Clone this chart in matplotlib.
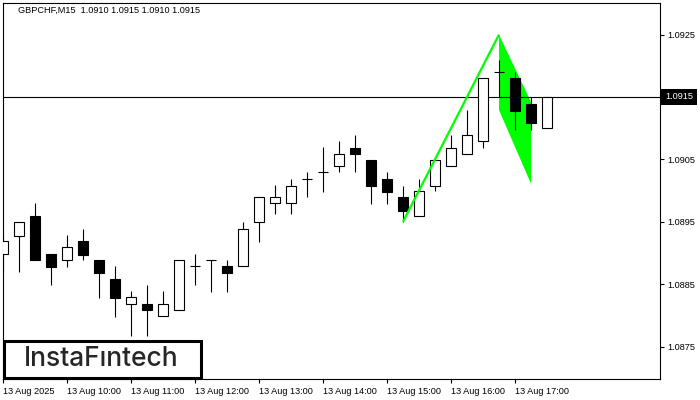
import numpy as np
import matplotlib.pyplot as plt
from matplotlib.patches import Rectangle, Polygon
import matplotlib.transforms as mtransforms

# GBPCHF M15 candles, 13 Aug 2025 from 09:00
opens = [1.08898, 1.08928, 1.08959, 1.08898, 1.08888, 1.08919, 1.08889, 1.08858, 1.08818, 1.08818,
         1.08799, 1.08808, 1.08879, 1.08889, 1.08879, 1.08879, 1.08949, 1.08980, 1.08980, 1.09018,
         1.09029, 1.09039, 1.09069, 1.09049, 1.09018, 1.08990, 1.08959, 1.09008, 1.09039, 1.09058,
         1.09079, 1.09190, 1.09180, 1.09139, 1.09100]
highs = [1.08929, 1.08949, 1.08980, 1.08898, 1.08929, 1.08938, 1.08889, 1.08879, 1.08839, 1.08849,
         1.08839, 1.08889, 1.08898, 1.08889, 1.08889, 1.08950, 1.08989, 1.09009, 1.09018, 1.09029,
         1.09070, 1.09080, 1.09089, 1.09049, 1.09030, 1.09008, 1.09019, 1.09049, 1.09089, 1.09129,
         1.09180, 1.09209, 1.09190, 1.09150, 1.09150]
lows = [1.08869, 1.08869, 1.08888, 1.08848, 1.08878, 1.08888, 1.08828, 1.08798, 1.08767, 1.08767,
        1.08799, 1.08808, 1.08848, 1.08838, 1.08838, 1.08879, 1.08918, 1.08962, 1.08962, 1.08989,
        1.08998, 1.09029, 1.09029, 1.08979, 1.08979, 1.08950, 1.08959, 1.08999, 1.09039, 1.09058,
        1.09069, 1.09150, 1.09097, 1.09097, 1.09100]
closes = [1.08919, 1.08949, 1.08888, 1.08878, 1.08909, 1.08897, 1.08868, 1.08828, 1.08829, 1.08808,
          1.08818, 1.08889, 1.08879, 1.08889, 1.08868, 1.08938, 1.08989, 1.08989, 1.09008, 1.09018,
          1.09029, 1.09058, 1.09058, 1.09008, 1.08998, 1.08968, 1.08999, 1.09049, 1.09069, 1.09089,
          1.09180, 1.09190, 1.09128, 1.09109, 1.09150]

# bearish flag pattern
pole_x = [25, 31]
pole_y = [1.0895, 1.0925]
flag_x = [31, 33, 33, 31]
flag_y = [1.0925, 1.09142, 1.09011, 1.09129]

last_price = 1.0915
title = 'GBPCHF,M15  1.0910 1.0915 1.0910 1.0915'
xtick_pos = [0, 4, 8, 12, 16, 20, 24, 28, 32]
xtick_labels = ['13 Aug 2025', '13 Aug 10:00', '13 Aug 11:00', '13 Aug 12:00', '13 Aug 13:00',
                '13 Aug 14:00', '13 Aug 15:00', '13 Aug 16:00', '13 Aug 17:00']
ytick_pos = [1.0875, 1.0885, 1.0895, 1.0905, 1.0915, 1.0925]

plt.rcParams['font.family'] = ['Liberation Sans', 'DejaVu Sans']
fs = 6.6

fig = plt.figure(figsize=(7, 4), dpi=100)
ax = fig.add_axes([3/700, 1-379.3/400, 657/700, 376.6/400])
ax.set_xlim(0, 657/16)
ax.set_ylim(1.086976, 1.093011)

# flag body
ax.add_patch(Polygon(list(zip(flag_x, flag_y)), closed=True, fc='#00ff00', ec='none', zorder=1))
ax.axhline(last_price, color='black', lw=0.8, zorder=2)

w = 0.62
for i in range(len(opens)):
    o, h, l, c = opens[i], highs[i], lows[i], closes[i]
    ax.vlines(i, l, h, color='black', lw=0.8, zorder=3)
    if abs(o - c) < 0.00002:
        ax.hlines(o, i - w/2, i + w/2, color='black', lw=0.8, zorder=4)
    else:
        fc = 'white' if c > o else 'black'
        ax.add_patch(Rectangle((i - w/2, min(o, c)), w, abs(c - o), fc=fc, ec='black', lw=0.8, zorder=4))

ax.plot(pole_x, pole_y, color='#00ff00', lw=1.6, zorder=5, solid_capstyle='butt')

for s in ax.spines.values():
    s.set_linewidth(0.8)
    s.set_color('black')

ax.set_xticks(xtick_pos)
ax.set_xticklabels(xtick_labels, ha='left', fontsize=fs)
ax.tick_params(axis='x', length=3, width=0.8, pad=2.5)
ax.yaxis.tick_right()
ax.set_yticks([p for p in ytick_pos if p != last_price])
ax.set_yticklabels(['%.4f' % p for p in ytick_pos if p != last_price], fontsize=fs)
ax.tick_params(axis='y', length=3, width=0.8, pad=2)

trans = mtransforms.blended_transform_factory(ax.transAxes, ax.transData)
ax.text(1.0 + 5/657, last_price, '%.4f' % last_price, transform=trans, fontsize=fs, color='white',
        va='center', ha='left',
        bbox=dict(boxstyle='square,pad=0.4', fc='black', ec='none'), clip_on=False, zorder=10)

fig.text(18/700, 1-10.7/400, title, fontsize=fs, va='center', ha='left')

# logo box
fig.patches.append(Rectangle((4/700, 1-378/400), 197/700, 37/400, transform=fig.transFigure,
                             fc='white', ec='black', lw=2.2, zorder=20))
fig.text(101.5/700, 1-359.5/400, 'InstaF\u0131ntech', fontsize=19, family=['Inter', 'DejaVu Sans'],
         weight='medium', color='#262626', ha='center', va='center', zorder=21)

fig.savefig('out.png', dpi=100)
